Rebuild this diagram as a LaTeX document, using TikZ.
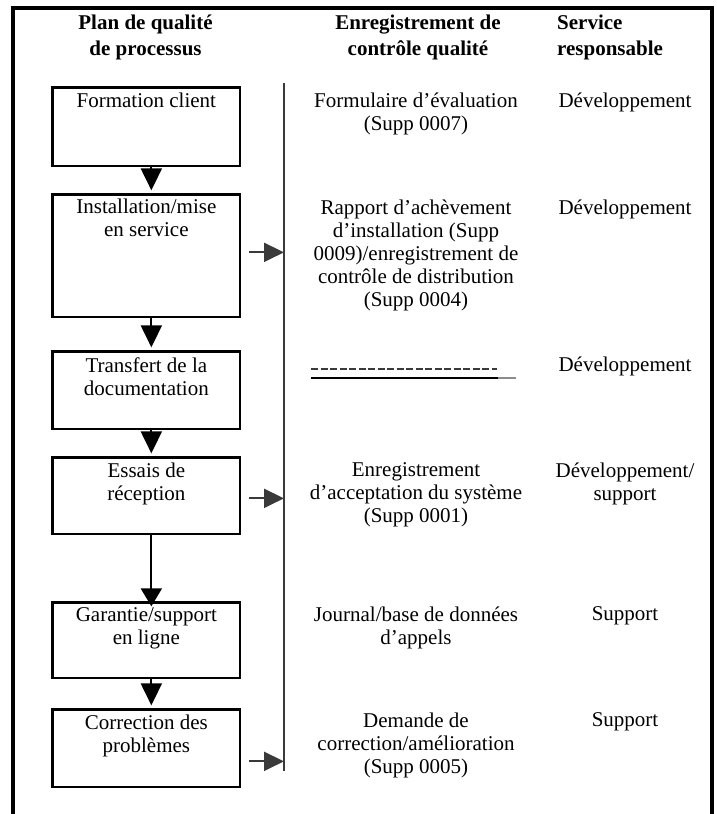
\documentclass[tikz,border=0pt]{standalone}
\usepackage{fontspec}
\setmainfont{Liberation Serif}
\usepackage{xcolor}
\definecolor{grisfonce}{HTML}{3A3A3A}
\definecolor{grisclair}{HTML}{8C8C8C}
\usetikzlibrary{arrows.meta,positioning}

\begin{document}
\begin{tikzpicture}[x=1pt,y=-1pt]
	\tikzset{
		entete/.style={font=\bfseries\fontsize{21}{26}\selectfont,align=center,inner sep=0pt,anchor=north},
		etape/.style={draw,line width=2.7pt,minimum width=187.3pt,inner sep=0pt,anchor=north west},
		etapetexte/.style={font=\fontsize{21}{23}\selectfont,align=center,inner sep=0pt},
		colonne/.style={font=\fontsize{21}{23}\selectfont,align=center,inner sep=0pt,anchor=north},
		fleche/.style={line width=2pt,-{Triangle[length=22pt,width=21pt]}},
		flechelat/.style={grisfonce,line width=2pt,-{Triangle[length=20pt,width=19pt]}}
	}
	\useasboundingbox (0,0) rectangle (717,814);
	%% cadre ouvert en bas
	\draw[line width=4pt] (13,814) -- (13,8) -- (712,8) -- (712,814);
	%% en-tetes
	\node[entete] (hplan) at (145.5,14.5) {Plan de qualité\\de processus};
	\node[entete] (henreg) at (418,14.5) {Enregistrement de\\contrôle qualité};
	\node[entete,anchor=north west,align=left] (hserv) at (557,14.5) {Service\\responsable};
	%% etapes du processus
	\node[etape,minimum height=78.3pt] (fc) at (51.35,86.35) {};
	\node[etape,minimum height=122.3pt] (ims) at (51.35,193.35) {};
	\node[etape,minimum height=77.3pt] (tdoc) at (51.35,350.35) {};
	\node[etape,minimum height=76.3pt] (essai) at (51.35,456.35) {};
	\node[etape,minimum height=75.3pt] (gar) at (51.35,601.35) {};
	\node[etape,minimum height=77.3pt] (corr) at (51.35,708.35) {};
	\node[etapetexte,below=6pt of fc.north] (tfc) {Formation client};
	\node[etapetexte,below=5pt of ims.north] (tims) {Installation/mise\\en service};
	\node[etapetexte,below=7pt of tdoc.north] (ttdoc) {Transfert de la\\documentation};
	\node[etapetexte,below=6pt of essai.north] (tessai) {Essais de\\réception};
	\node[etapetexte,below=6pt of gar.north] (tgar) {Garantie/support\\en ligne};
	\node[etapetexte,below=6pt of corr.north] (tcorr) {Correction des\\problèmes};
	%% fleches entre etapes
	\foreach \a/\b in {fc/ims,ims/tdoc,tdoc/essai,gar/corr}{%
		\draw[fleche,shorten >=3pt] ([xshift=5pt]\a.south) -- ([xshift=5pt]\b.north);
	}
	\draw[line width=2pt,-{Triangle[length=18pt,width=21pt]},shorten >=-5pt] ([xshift=5pt]essai.south) -- ([xshift=5pt]gar.north);
	%% trait de separation
	\coordinate (dhaut) at (284,83);
	\coordinate (dbas) at (284,771);
	\draw[grisfonce,line width=1.8pt] (dhaut) -- (dbas);
	\foreach \n/\dy in {ims/3.5,essai/-2.5,corr/-13}{%
		\draw[flechelat,shorten <=7.5pt] ([yshift=\dy pt]\n.east) -- ([yshift=\dy pt]\n.east -| dhaut);
	}
	%% enregistrements
	\node[colonne] (recfc) at (416,92.5) {Formulaire d’évaluation\\(Supp 0007)};
	\node[colonne] (recims) at (416,199.5) {Rapport d’achèvement\\d’installation (Supp\\0009)/enregistrement de\\contrôle de distribution\\(Supp 0004)};
	\draw[grisfonce,line width=2pt,dash pattern=on 7pt off 2.5pt] (311,369) -- (497,369);
	\draw[line width=2pt] (311,378) -- (498,378);
	\draw[grisclair,line width=1.5pt] (498,378) -- (516,378);
	\node[colonne] (recess) at (416,462.5) {Enregistrement\\d’acceptation du système\\(Supp 0001)};
	\node[colonne] (recgar) at (416,606.5) {Journal/base de données\\d’appels};
	\node[colonne] (reccorr) at (416,712.5) {Demande de\\correction/amélioration\\(Supp 0005)};
	%% services responsables
	\foreach \y/\t [count=\i] in {92.5/Développement,199.5/Développement,356.5/Développement,462.5/{Développement/\\support},606.5/Support,712.5/Support}{%
		\node[colonne] (serv\i) at (625,\y) {\t};
	}
\end{tikzpicture}
\end{document}
